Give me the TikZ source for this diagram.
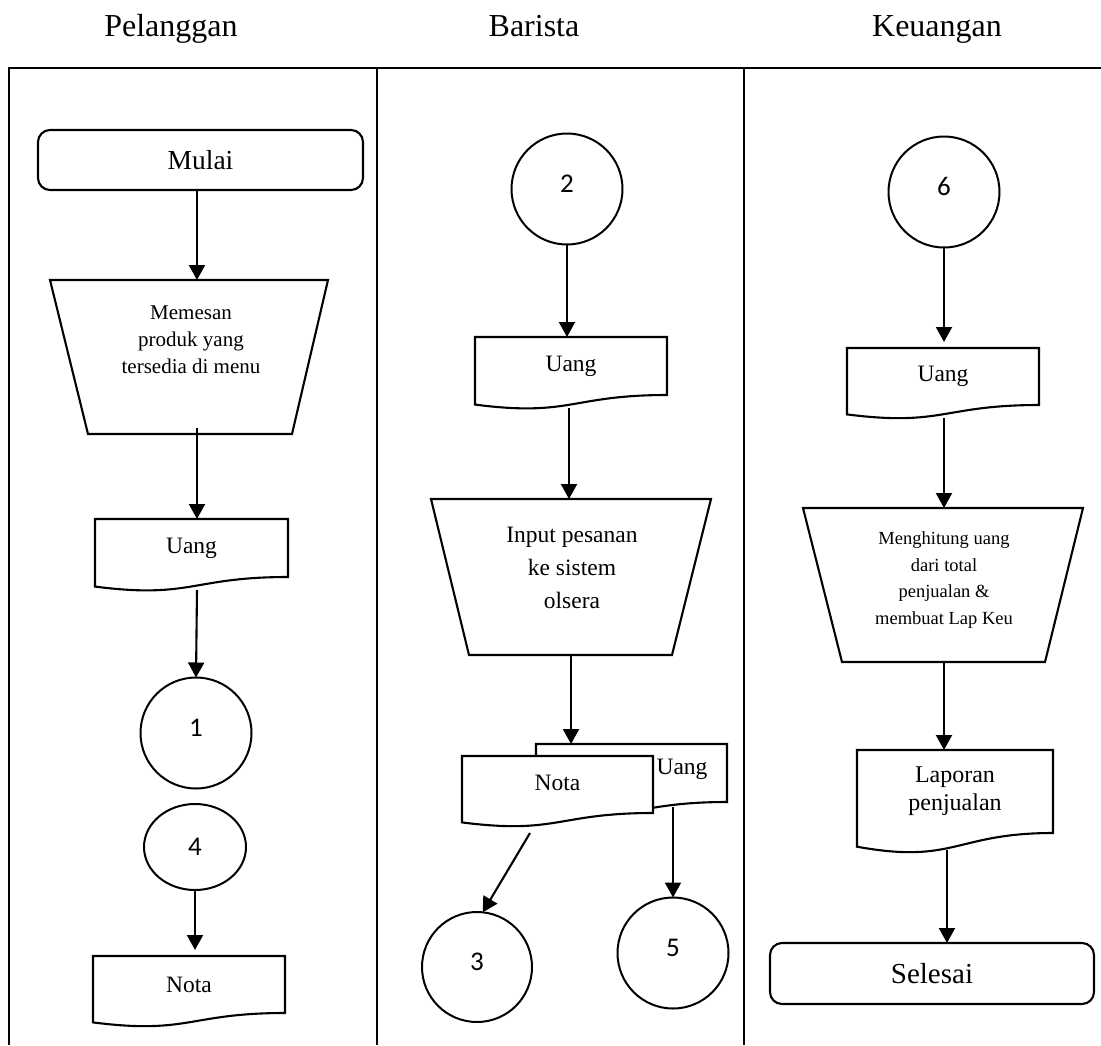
\documentclass[tikz,border=0pt]{standalone}
\usepackage{fontspec}
\setmainfont{Liberation Serif}
\newfontfamily\numfont{Carlito}
\usetikzlibrary{shapes.geometric,arrows.meta,calc}
\makeatletter
\pgfdeclareshape{docshape}{
  \inheritsavedanchors[from=rectangle]
  \inheritanchorborder[from=rectangle]
  \inheritanchor[from=rectangle]{center}
  \inheritanchor[from=rectangle]{north}
  \inheritanchor[from=rectangle]{south}
  \inheritanchor[from=rectangle]{east}
  \inheritanchor[from=rectangle]{west}
  \inheritanchor[from=rectangle]{north east}
  \inheritanchor[from=rectangle]{north west}
  \inheritanchor[from=rectangle]{south east}
  \inheritanchor[from=rectangle]{south west}
  \inheritanchor[from=rectangle]{text}
  \inheritanchor[from=rectangle]{base}
  \inheritanchor[from=rectangle]{mid}
  \backgroundpath{%
    \southwest \pgf@xa=\pgf@x \pgf@ya=\pgf@y
    \northeast \pgf@xb=\pgf@x \pgf@yb=\pgf@y
    \pgf@yc=\pgf@yb \advance\pgf@yc by -\pgf@ya
    \pgf@xc=.5\pgf@xa \advance\pgf@xc by .5\pgf@xb
    \edef\dxa{\the\pgf@xa}\edef\dxb{\the\pgf@xb}\edef\dxc{\the\pgf@xc}%
    \edef\dya{\the\pgf@ya}\edef\dyb{\the\pgf@yb}%
    \pgf@y=\pgf@ya \advance\pgf@y by -0.380\pgf@yc \edef\dyc{\the\pgf@y}%
    \pgf@y=\pgf@ya \advance\pgf@y by -0.165\pgf@yc \edef\dyd{\the\pgf@y}%
    \pgfpathmoveto{\pgfpoint{\dxa}{\dyb}}%
    \pgfpathlineto{\pgfpoint{\dxb}{\dyb}}%
    \pgfpathlineto{\pgfpoint{\dxb}{\dya}}%
    \pgfpathcurveto{\pgfpoint{\dxc}{\dya}}{\pgfpoint{\dxc}{\dyc}}{\pgfpoint{\dxa}{\dyd}}%
    \pgfpathclose
  }
}
\makeatother
\newcommand\cnum[1]{\smash{\raisebox{-3pt}{#1}}}
\begin{document}
\begin{tikzpicture}[x=1pt,y=-1pt,
  frame/.style={line width=2.4pt},
  outl/.style={line width=2.1pt,line join=miter},
  arr/.style={line width=2.1pt,-{Triangle[length=15pt,width=16pt]}},
  doc/.style={shape=docshape,draw,line width=2.1pt,fill=white,inner sep=0pt,outer sep=0pt,
    minimum width=193pt,minimum height=58pt,font=\fontsize{23.5}{28}\selectfont,align=center},
  term/.style={rectangle,rounded corners=12pt,draw,line width=2.1pt,inner sep=0pt,outer sep=0pt,
    minimum width=325pt,minimum height=60pt},
  conn/.style={circle,draw,line width=2pt,minimum size=111pt,inner sep=0pt,outer sep=0pt,
    font=\numfont\fontsize{27}{30}\selectfont},
  manual/.style={rectangle,inner sep=0pt,outer sep=0pt,minimum width=279pt,minimum height=155pt},
  head/.style={font=\fontsize{32}{38}\selectfont,anchor=base},
  ttext/.style={align=center,inner sep=0pt}
]
\useasboundingbox (0,0) rectangle (1101,1045);
\fill[white] (0,0) rectangle (1101,1045);

% headers
\node[head] (h1) at (171,36) {Pelanggan};
\node[head] (h2) at (534,36) {Barista};
\node[head] (h3) at (937,36) {Keuangan};

% frame
\draw[frame] (9,1045) -- (9,68) -- (1101,68);
\draw[frame] (377,68) -- (377,1045);
\draw[frame] (744,68) -- (744,1045);

% column 1
\coordinate (x1) at (197,0);
\node[term,font=\fontsize{27.5}{32}\selectfont] (mulai) at (200.5,160) {Mulai};
\node[manual,minimum width=278pt,minimum height=154pt] (m1) at (189,357) {};
\draw[outl] (m1.north west) -- (m1.north east) -- ($(m1.south east)+(-36,0)$) -- ($(m1.south west)+(38,0)$) -- cycle;
\node[ttext,font=\fontsize{21}{27}\selectfont] (m1t) at (191,340) {Memesan\\produk yang\\tersedia di menu};
\node[doc] (u1) at (191.5,548) {Uang};
\node[conn] (c1) at (196,733) {\cnum{1}};
\node[ellipse,draw,line width=2pt,minimum width=102pt,minimum height=86pt,inner sep=0pt,outer sep=0pt,
  font=\numfont\fontsize{27}{30}\selectfont] (c4) at (195,847) {4};
\node[doc,minimum width=192pt,minimum height=57pt] (n1) at (189,984.5) {Nota};

\draw[arr] (mulai.south -| x1) -- (m1.north -| x1);
\draw[arr] ($(m1.south -| x1)+(0,-6)$) -- (u1.north -| x1);
\draw[arr] ($(u1.south -| x1)+(0,13)$) -- (c1.north);
\draw[arr] (c4.south) -- ($(n1.north -| c4.south)+(0,-6)$);

% column 2
\node[conn] (c2) at (567,189) {\cnum{2}};
\node[doc,minimum width=192pt] (u2) at (571,366) {Uang};
\node[manual,minimum width=280pt,minimum height=156pt] (t2) at (571,577) {};
\draw[outl] (t2.north west) -- (t2.north east) -- ($(t2.south east)+(-39,0)$) -- ($(t2.south west)+(38,0)$) -- cycle;
\node[ttext,font=\fontsize{23.5}{33}\selectfont] (t2t) at (572,568) {Input pesanan\\ke sistem\\olsera};
\node[doc,minimum width=191pt] (ub) at (631.5,773) {};
\node[font=\fontsize{23.5}{28}\selectfont,inner sep=0pt] (ubt) at (682,769) {Uang};
\draw[arr] (t2.south) -- (t2.south |- ub.north);
\node[doc,minimum width=191pt,minimum height=57pt] (n2) at (557.5,784.5) {\raisebox{3pt}{Nota}};
\node[conn,minimum size=110pt] (c3) at (477,967) {\cnum{3}};
\node[conn] (c5) at (673,953) {\cnum{5}};

\draw[arr] (c2.south) -- (u2.north -| c2.south);
\draw[arr] ($(u2.south -| t2.north)+(-2,13)$) -- ($(t2.north)+(-2,0)$);
\draw[arr] ($(n2.south west)+(68,20)$) -- (c3.84);
\draw[arr] ($(ub.south -| c5.north)+(0,5)$) -- (c5.north);

% column 3
\node[conn] (c6) at (944,192) {\cnum{6}};
\node[doc,minimum width=192pt,minimum height=57pt] (u3) at (943,376.5) {Uang};
\node[manual,minimum width=280pt,minimum height=154pt] (t3) at (943,585) {};
\draw[outl] (t3.north west) -- (t3.north east) -- ($(t3.south east)+(-38,0)$) -- ($(t3.south west)+(39,0)$) -- cycle;
\node[ttext,font=\fontsize{18.5}{26.7}\selectfont] (t3t) at (944,580) {Menghitung uang\\dari total\\penjualan \&\\membuat Lap Keu};
\node[doc,minimum width=196pt,minimum height=83pt,font=\fontsize{24}{28}\selectfont] (lp) at (955,791.5) {Laporan\\penjualan};
\node[term,minimum width=324pt,minimum height=61pt,font=\fontsize{29}{34}\selectfont] (selesai) at (932,973.5) {Selesai};

\draw[arr] (c6.south) -- ($(u3.north -| c6.south)+(0,-6)$);
\draw[arr] ($(u3.south -| c6.south)+(0,13)$) -- (t3.north -| c6.south);
\draw[arr] (t3.south -| c6.south) -- (lp.north -| c6.south);
\draw[arr] ($(lp.south -| c6.south)+(3,17)$) -- ($(selesai.north -| c6.south)+(3,0)$);
\end{tikzpicture}
\end{document}
